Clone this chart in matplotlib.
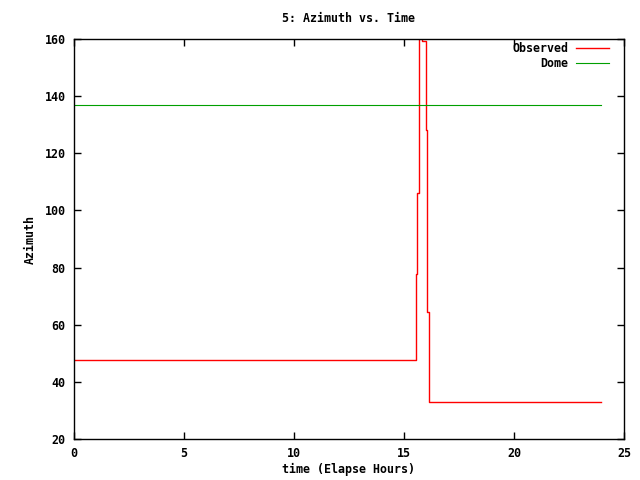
import matplotlib
matplotlib.use("Agg")
import matplotlib.pyplot as plt

czas = [0, 15.53, 15.56, 15.60, 15.67, 15.70, 15.83, 15.99, 16.06, 16.12, 23.95]
azymut = [47.6, 57.6, 77.7, 106.0, 142.0, 161.0, 159.4, 128.0, 64.6, 33.0, 33.0]

czas_kopula = [0, 23.95]
azymut_kopula = [136.8, 136.8]

rozmiar = 8.4
plt.rcParams["font.family"] = "DejaVu Sans Mono"
plt.rcParams["font.weight"] = "bold"
plt.rcParams["font.size"] = rozmiar

fig = plt.figure(figsize=(6.4, 4.8), dpi=100)
ax = fig.add_axes([74 / 640, 41 / 480, 550 / 640, 400 / 480])

ax.plot(czas, azymut, color="red", lw=1, drawstyle="steps-post", label="Observed")
ax.plot(czas_kopula, azymut_kopula, color="#00a000", lw=0.8, label="Dome")

ax.set_xlim(0, 25)
ax.set_ylim(20, 160)
ax.set_xticks([0, 5, 10, 15, 20, 25])
ax.set_yticks(range(20, 161, 20))
ax.tick_params(direction="in", top=True, right=True, length=5, width=1, pad=6,
               labelsize=rozmiar)
for s in ax.spines.values():
    s.set_linewidth(1)

ax.set_xlabel("time (Elapse Hours)", fontweight="bold", fontsize=rozmiar, labelpad=2)
ax.set_ylabel("Azimuth", fontweight="bold", fontsize=rozmiar, labelpad=6)
ax.set_title("5: Azimuth vs. Time", fontweight="bold", fontsize=rozmiar, pad=12)

ax.legend(loc="upper right", bbox_to_anchor=(0.973, 0.993), frameon=False,
          markerfirst=False, handlelength=2.8, borderpad=0, borderaxespad=0,
          labelspacing=0.2, handletextpad=0.7,
          prop={"family": "DejaVu Sans Mono", "weight": "bold", "size": rozmiar})

fig.savefig("out.png", dpi=100)
